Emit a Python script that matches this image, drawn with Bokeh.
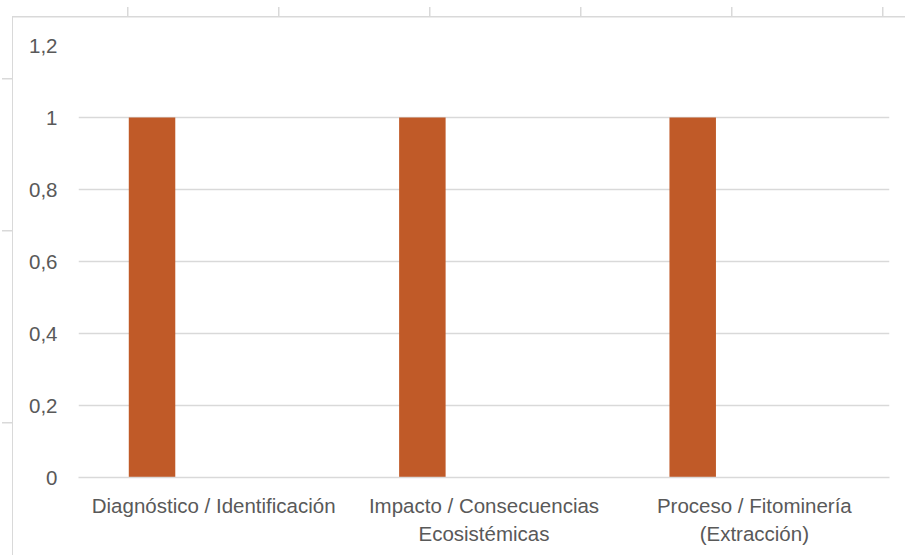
from bokeh.plotting import figure
from bokeh.models import ColumnDataSource, FixedTicker, CustomJSTickFormatter
from bokeh.transform import dodge
from bokeh.embed import file_html
from bokeh.resources import INLINE

# Chart data
categories = ["Diagnóstico / Identificación",
              "Impacto / Consecuencias\nEcosistémicas",
              "Proceso / Fitominería\n(Extracción)"]
values = [1, 1, 1]
y_ticks = [0, 0.2, 0.4, 0.6, 0.8, 1.0, 1.2]

BAR_COLOR = "#C05A28"
TEXT_COLOR = "#595959"
GRID_COLOR = "#D9D9D9"
FONT = "Liberation Sans"
FONT_SIZE = "20.5px"

W, H = 905, 555
F_LEFT, F_RIGHT, F_TOP, F_BOTTOM = 78, 889, 45, 477

p = figure(width=W, height=H, x_range=categories, y_range=(0, 1.2),
           output_backend="svg", toolbar_location=None,
           min_border_left=F_LEFT, min_border_right=W - F_RIGHT,
           min_border_top=F_TOP, min_border_bottom=H - F_BOTTOM)
p.x_range.range_padding = 0
p.outline_line_color = None
p.background_fill_color = "white"
p.border_fill_color = None

src = ColumnDataSource(dict(cat=categories, val=values))
p.vbar(x=dodge("cat", -0.228, range=p.x_range), top="val", width=0.172,
       source=src, fill_color=BAR_COLOR, line_color=None)

# grid
p.xgrid.grid_line_color = None
p.ygrid.grid_line_color = GRID_COLOR
p.ygrid.grid_line_width = 1.3
p.yaxis.ticker = FixedTicker(ticks=y_ticks)

# y axis
p.yaxis.axis_line_color = None
p.yaxis.major_tick_line_color = None
p.yaxis.major_tick_out = 0
p.yaxis.major_tick_in = 0
p.yaxis.minor_tick_line_color = None
p.yaxis.major_label_standoff = 21
p.yaxis.major_label_text_font = FONT
p.yaxis.major_label_text_font_size = FONT_SIZE
p.yaxis.major_label_text_color = TEXT_COLOR
p.yaxis.formatter = CustomJSTickFormatter(
    code="return (Math.round(tick*10)/10).toString().replace('.', ',');")

# x axis
p.xaxis.axis_line_color = GRID_COLOR
p.xaxis.axis_line_width = 1.3
p.xaxis.major_tick_line_color = None
p.xaxis.major_tick_out = 0
p.xaxis.major_tick_in = 0
p.xaxis.minor_tick_line_color = None
p.xaxis.major_label_standoff = 16
p.xaxis.major_label_text_font = FONT
p.xaxis.major_label_text_font_size = FONT_SIZE
p.xaxis.major_label_text_color = TEXT_COLOR
p.xaxis.major_label_text_line_height = 1.22

# chart-area border and the sheet's cell marks around it, painted as
# CSS background lines behind the (transparent) plot border
LINE = "#D9D9D9"
layers = [("1px 538px", "12px 17px"),      # left border of the chart area
          ("893px 1.5px", "12px 16px")]    # top border of the chart area
layers += [("1.5px 10px", f"{x}px 7px") for x in [127, 278, 429, 580, 731, 882]]
layers += [("10px 1.5px", f"2px {y}px") for y in [78, 230, 422]]
p.styles = {
    "background-color": "white",
    "background-image": ", ".join(f"linear-gradient({LINE}, {LINE})" for _ in layers),
    "background-size": ", ".join(s for s, _ in layers),
    "background-position": ", ".join(pos for _, pos in layers),
    "background-repeat": "no-repeat",
}

open("out.html", "w").write(file_html(p, INLINE))
